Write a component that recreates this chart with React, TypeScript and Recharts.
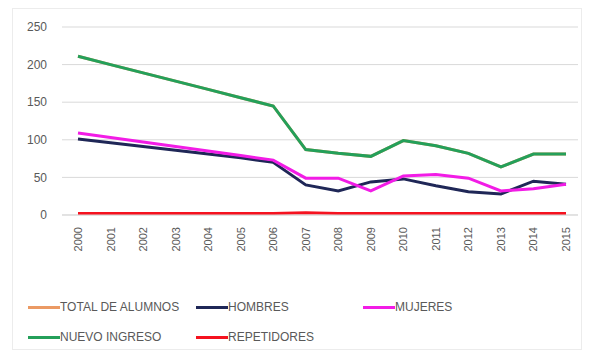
import { LineChart, Line, XAxis, YAxis, CartesianGrid, Legend } from 'recharts';

const years = ['2000', '2001', '2002', '2003', '2004', '2005', '2006', '2007', '2008', '2009', '2010', '2011', '2012', '2013', '2014', '2015'];
const totalAlumnos = [211, 200, 189, 178, 167, 156, 145, 87, 82, 78, 99, 92, 82, 64, 81, 81];
const hombres = [101, 96, 91, 86, 81, 76, 70, 40, 32, 44, 48, 39, 31, 28, 45, 41];
const mujeres = [109, 103, 97, 91, 85, 79, 73, 49, 49, 32, 52, 54, 49, 32, 35, 41];
const nuevoIngreso = [211, 200, 189, 178, 167, 156, 145, 87, 82, 78, 99, 92, 82, 64, 81, 81];
const repetidores = [2, 2, 2, 2, 2, 2, 2, 3, 2, 2, 2, 2, 2, 2, 2, 2];
const yTicks = [0, 50, 100, 150, 200, 250];

const series = [
  { key: 'total', name: 'TOTAL DE ALUMNOS', color: '#eb9a64' },
  { key: 'hombres', name: 'HOMBRES', color: '#1f2757' },
  { key: 'mujeres', name: 'MUJERES', color: '#f21ce6' },
  { key: 'nuevo', name: 'NUEVO INGRESO', color: '#24a05a' },
  { key: 'repetidores', name: 'REPETIDORES', color: '#f5121f' },
];

const data = years.map((year, i) => ({
  year,
  total: totalAlumnos[i],
  hombres: hombres[i],
  mujeres: mujeres[i],
  nuevo: nuevoIngreso[i],
  repetidores: repetidores[i],
}));

const font = '"Liberation Sans Narrow", "Liberation Sans", Arial, sans-serif';

const YearTick = (props: any) => {
  const { x, y, payload } = props;
  return (
    <text
      x={x}
      y={y}
      transform={`rotate(-90, ${x}, ${y})`}
      textAnchor='end'
      dominantBaseline='central'
      fontSize={11}
      fontFamily={font}
      fill='#595959'
    >
      {payload.value}
    </text>
  );
};

const LegendBox = () => (
  <div style={{ position: 'relative', height: 60, fontFamily: font, fontSize: 12, color: '#595959' }}>
    {series.map((s, i) => {
      const col = i < 3 ? i : i - 3;
      const row = i < 3 ? 0 : 1;
      const lefts = [28, 196, 363];
      return (
        <div
          key={s.key}
          style={{
            position: 'absolute',
            left: lefts[col],
            top: row * 30 + 10,
            display: 'flex',
            alignItems: 'center',
            whiteSpace: 'nowrap',
          }}
        >
          <span style={{ display: 'inline-block', width: 32, height: 3, background: s.color }} />
          <span>{s.name}</span>
        </div>
      );
    })}
  </div>
);

export default function App() {
  return (
    <div style={{ position: 'absolute', left: 0, top: 0, width: 590, height: 356, background: '#fff' }}>
      <div
        style={{
          position: 'absolute',
          left: 12,
          top: 8,
          width: 570,
          height: 342,
          border: '1px solid #ececec',
          boxSizing: 'border-box',
        }}
      />
      <LineChart
        width={590}
        height={356}
        data={data}
        margin={{ top: 27, right: 12, left: 24, bottom: 6 }}
      >
        <CartesianGrid vertical={false} stroke='#d9d9d9' />
        <XAxis
          dataKey='year'
          interval={0}
          height={75}
          tick={<YearTick />}
          tickLine={false}
          axisLine={{ stroke: '#d9d9d9' }}
          padding={{ left: 16, right: 12 }}
          tickMargin={6}
        />
        <YAxis
          domain={[0, 250]}
          ticks={yTicks}
          width={38}
          tickLine={false}
          axisLine={false}
          tick={{ fontSize: 12, fill: '#595959', fontFamily: font }}
          tickMargin={9}
        />
        <Legend
          verticalAlign='bottom'
          height={60}
          wrapperStyle={{ left: 0, width: 590 }}
          content={<LegendBox />}
        />
        {series.map((s) => (
          <Line
            key={s.key}
            type='linear'
            dataKey={s.key}
            name={s.name}
            stroke={s.color}
            strokeWidth={3}
            dot={false}
            isAnimationActive={false}
          />
        ))}
      </LineChart>
    </div>
  );
}
